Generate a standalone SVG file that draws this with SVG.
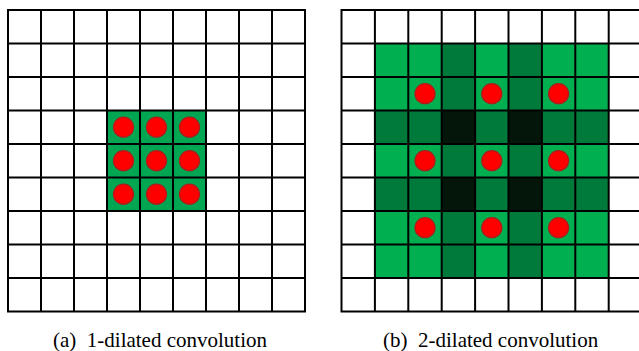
<svg xmlns="http://www.w3.org/2000/svg" width="639" height="351" viewBox="0 0 639 351">
<style>
.grid{fill:none;stroke:#000;stroke-width:2;stroke-linecap:square}
.g1{fill:#00a651}
.lt{fill:#00b050}
.md{fill:#007a3a}
.dk{fill:#041509}
.dot{fill:#ff0000;stroke:#b01a1a;stroke-width:1.3}
.cap{font-size:21px;fill:#000}
</style>
<rect width="639" height="351" fill="#fff"/>
<g id="panel-a">
  <rect class="g1" x="107" y="110.5" width="99" height="100.5"/>
  <path class="grid" d="M8 10V311.5M41 10V311.5M74 10V311.5M107 10V311.5M140 10V311.5M173 10V311.5M206 10V311.5M239 10V311.5M272 10V311.5M305 10V311.5M8 10H305M8 43.5H305M8 77H305M8 110.5H305M8 144H305M8 177.5H305M8 211H305M8 244.5H305M8 278H305M8 311.5H305"/>
  <g id="dots-a">
    <circle class="dot" cx="123.5" cy="127.2" r="10"/>
    <circle class="dot" cx="156.5" cy="127.2" r="10"/>
    <circle class="dot" cx="189.5" cy="127.2" r="10"/>
    <circle class="dot" cx="123.5" cy="160.7" r="10"/>
    <circle class="dot" cx="156.5" cy="160.7" r="10"/>
    <circle class="dot" cx="189.5" cy="160.7" r="10"/>
    <circle class="dot" cx="123.5" cy="194.2" r="10"/>
    <circle class="dot" cx="156.5" cy="194.2" r="10"/>
    <circle class="dot" cx="189.5" cy="194.2" r="10"/>
  </g>
  <text id="cap-a" class="cap" x="53" y="346.5" font-family="Liberation Serif, Times New Roman, serif" xml:space="preserve">(a)  1-dilated convolution</text>
</g>
<g id="panel-b">
  <rect class="lt" x="374.9" y="43.5" width="233.8" height="234.5"/>
  <rect class="md" x="441.7" y="43.5" width="33.4" height="234.5"/>
  <rect class="md" x="508.5" y="43.5" width="33.4" height="234.5"/>
  <rect class="md" x="374.9" y="110.5" width="233.8" height="33.5"/>
  <rect class="md" x="374.9" y="177.5" width="233.8" height="33.5"/>
  <rect class="dk" x="441.7" y="110.5" width="33.4" height="33.5"/>
  <rect class="dk" x="508.5" y="110.5" width="33.4" height="33.5"/>
  <rect class="dk" x="441.7" y="177.5" width="33.4" height="33.5"/>
  <rect class="dk" x="508.5" y="177.5" width="33.4" height="33.5"/>
  <path class="grid" d="M341.5 10V311.5M374.9 10V311.5M408.3 10V311.5M441.7 10V311.5M475.1 10V311.5M508.5 10V311.5M541.9 10V311.5M575.3 10V311.5M608.7 10V311.5M341.5 10H645M341.5 43.5H645M341.5 77H645M341.5 110.5H645M341.5 144H645M341.5 177.5H645M341.5 211H645M341.5 244.5H645M341.5 278H645M341.5 311.5H645"/>
  <g id="dots-b">
    <circle class="dot" cx="425" cy="93.7" r="10"/>
    <circle class="dot" cx="491.8" cy="93.7" r="10"/>
    <circle class="dot" cx="558.6" cy="93.7" r="10"/>
    <circle class="dot" cx="425" cy="160.7" r="10"/>
    <circle class="dot" cx="491.8" cy="160.7" r="10"/>
    <circle class="dot" cx="558.6" cy="160.7" r="10"/>
    <circle class="dot" cx="425" cy="227.7" r="10"/>
    <circle class="dot" cx="491.8" cy="227.7" r="10"/>
    <circle class="dot" cx="558.6" cy="227.7" r="10"/>
  </g>
  <text id="cap-b" class="cap" x="383" y="346.5" font-family="Liberation Serif, Times New Roman, serif" xml:space="preserve">(b)  2-dilated convolution</text>
</g>
</svg>
